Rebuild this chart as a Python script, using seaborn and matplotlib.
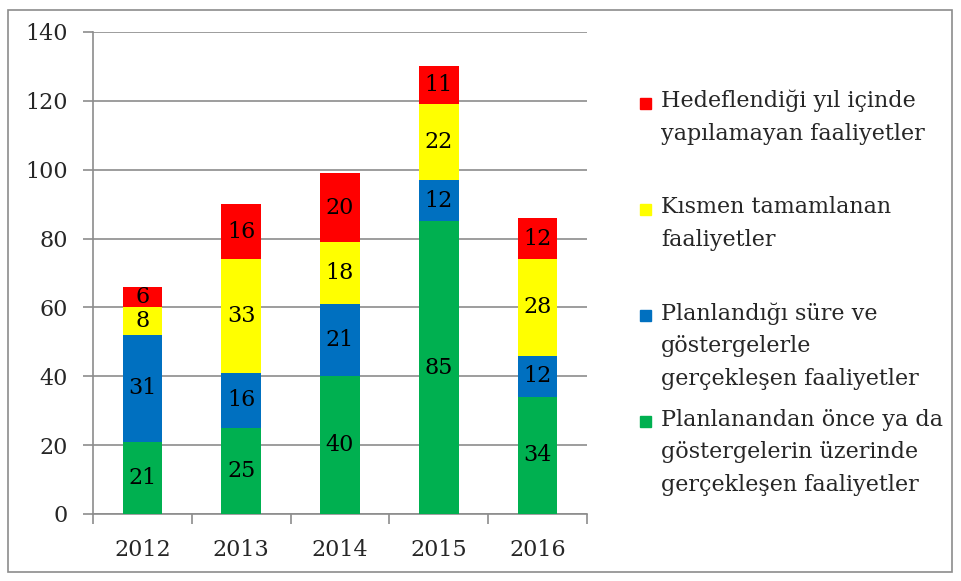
import numpy as np
import pandas as pd
import matplotlib
matplotlib.use("Agg")
import matplotlib.pyplot as plt
import matplotlib.patches as mpatches
from matplotlib.legend_handler import HandlerPatch
import seaborn as sns

years = ["2012", "2013", "2014", "2015", "2016"]
green_vals = [21, 25, 40, 85, 34]
blue_vals = [31, 16, 21, 12, 12]
yellow_vals = [8, 33, 18, 22, 28]
red_vals = [6, 16, 20, 11, 12]

# trailing newline keeps every legend entry three lines tall
series_names = [
    "Planlanandan önce ya da\ngöstergelerin üzerinde\ngerçekleşen faaliyetler",
    "Planlandığı süre ve\ngöstergelerle\ngerçekleşen faaliyetler",
    "Kısmen tamamlanan\nfaaliyetler\n",
    "Hedeflendiği yıl içinde\nyapılamayan faaliyetler\n",
]
colors = ["#00B050", "#0070C0", "#FFFF00", "#FF0000"]

sns.set_theme(style="white")
plt.rcParams["font.family"] = ["DejaVu Serif"]
FS = 16
GREY = "#8c8c8c"

stack = [green_vals, blue_vals, yellow_vals, red_vals]
cum = np.cumsum(np.array(stack), axis=0)

fig = plt.figure(figsize=(9.61, 5.81), dpi=100)
ax = fig.add_axes([93 / 961, 1 - 514 / 581, 494 / 961, 482 / 581])

# draw tallest cumulative first so lower segments overlay it
for i in range(3, -1, -1):
    df = pd.DataFrame({"year": years, "val": cum[i]})
    sns.barplot(data=df, x="year", y="val", color=colors[i], width=0.4,
                saturation=1, ax=ax, edgecolor="none", zorder=3)

# value labels at segment centres
for i, vals in enumerate(stack):
    for j, v in enumerate(vals):
        mid = cum[i][j] - v / 2
        ax.text(j, mid, str(v), ha="center", va="center", fontsize=FS,
                color="black", zorder=4)

ax.set_ylim(0, 140)
ax.set_xlim(-0.5, 4.5)
ax.set_yticks(range(0, 141, 20))
ax.set_xlabel("")
ax.set_ylabel("")
ax.yaxis.grid(True, color=GREY, linewidth=1.2, zorder=0)
ax.set_axisbelow(True)
for s in ["top", "right"]:
    ax.spines[s].set_visible(False)
for s in ["left", "bottom"]:
    ax.spines[s].set_color(GREY)
    ax.spines[s].set_linewidth(1.2)
ax.tick_params(axis="y", which="major", left=True, length=7, width=1.2,
               color=GREY, labelsize=FS, pad=11)
ax.tick_params(axis="x", which="major", length=0, labelsize=FS, pad=18)
ax.set_xticks(np.arange(-0.5, 5, 1), minor=True)
ax.tick_params(axis="x", which="minor", bottom=True, length=7, width=1.2,
               color=GREY)


def top_square(legend, orig_handle, xdescent, ydescent, width, height, fontsize):
    # square sits next to the first text line instead of the block centre
    return mpatches.Rectangle((-xdescent, -ydescent + 23), width, width)


handles = [mpatches.Patch(color=colors[i], label=series_names[i])
           for i in range(3, -1, -1)]
leg = fig.legend(handles=handles, loc="upper left",
                 bbox_to_anchor=(631 / 961, 1 - 81 / 581),
                 frameon=False, fontsize=FS, handlelength=0.5, handleheight=0.5,
                 handletextpad=0.45, labelspacing=0.85, borderaxespad=0,
                 handler_map={mpatches.Patch: HandlerPatch(patch_func=top_square)})
for t in leg.get_texts():
    t.set_linespacing(1.62)

fig.patches.append(mpatches.Rectangle((8 / 961, 1 - 572 / 581), 944 / 961, 562 / 581,
                                      transform=fig.transFigure, fill=False,
                                      edgecolor=GREY, linewidth=1.2))

fig.savefig("out.png", dpi=100)
